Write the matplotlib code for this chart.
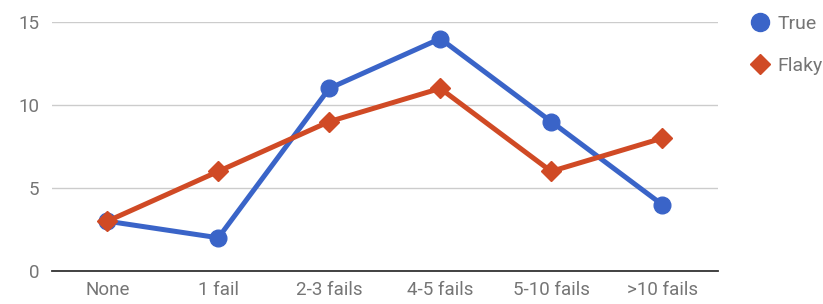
import matplotlib.pyplot as plt
from matplotlib.lines import Line2D

categories = ["None", "1 fail", "2-3 fails", "4-5 fails", "5-10 fails", ">10 fails"]
true_vals = [3, 2, 11, 14, 9, 4]
flaky_vals = [3, 6, 9, 11, 6, 8]

plt.rcParams['font.family'] = ['Roboto', 'DejaVu Sans']

fig = plt.figure(figsize=(8.23, 3.04), dpi=100)
ax = fig.add_axes([0.063, 0.1086, 0.809, 0.819])

blue = "#3a64c8"
red = "#d04a25"
x = range(len(categories))

ax.plot(x, true_vals, color=blue, lw=3.6, marker="o", ms=12, zorder=3)
ax.plot(x, flaky_vals, color=red, lw=3.6, marker="D", ms=10.5, zorder=4)

ax.set_xlim(-0.5, len(categories) - 0.5)
ax.set_ylim(0, 15)
ax.set_yticks([0, 5, 10, 15])
ax.set_xticks(list(x))
ax.set_xticklabels(categories)
ax.tick_params(length=0, labelsize=13.5, labelcolor="#757575")
ax.tick_params(axis="x", pad=7)
ax.tick_params(axis="y", pad=9)
ax.grid(axis="y", color="#cccccc", lw=1)
ax.set_axisbelow(True)
for s in ["top", "right", "left"]:
    ax.spines[s].set_visible(False)
ax.spines["bottom"].set_color("#333333")
ax.spines["bottom"].set_linewidth(1.3)
ax.spines["bottom"].set_zorder(2)

handles = [
    Line2D([], [], color=blue, marker="o", ls="", ms=13),
    Line2D([], [], color=red, marker="D", ls="", ms=10.5),
]
leg = fig.legend(handles, ["True", "Flaky"], loc="upper left",
                 bbox_to_anchor=(0.899, 0.984), frameon=False, borderpad=0,
                 fontsize=14, labelspacing=1.26, handletextpad=0.35,
                 handlelength=1.1)
for t in leg.get_texts():
    t.set_color("#757575")

fig.savefig("out.png", dpi=100)
